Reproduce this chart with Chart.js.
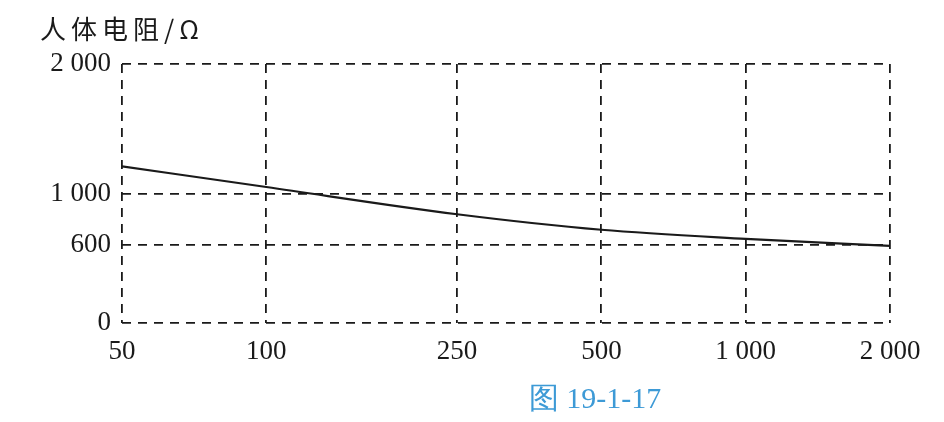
<!DOCTYPE html>
<html>
<head>
<meta charset="utf-8">
<script src="https://cdn.jsdelivr.net/npm/chart.js@4.4.1/dist/chart.umd.min.js"></script>
<style>
  html, body { margin: 0; padding: 0; background: #fff; }
  #wrap { position: relative; width: 944px; height: 422px; }
</style>
</head>
<body>
<div id="wrap"><canvas id="chart" width="944" height="422"></canvas></div>
<script>
// ── Data ───────────────────────────────────────────────────
const voltage = [50, 100, 250, 500, 1000, 2000];
const resistance = [1210, 1050, 840, 720, 650, 595];
const xTicks = [50, 100, 250, 500, 1000, 2000];
const yTicks = [0, 600, 1000, 2000];
const yTitle = '人体电阻/Ω';
const caption = '图 19-1-17';

const SERIF = "'Liberation Serif', 'DejaVu Serif', serif";
const INK = '#1a1a1a';
const fmt = v => v >= 1000 ? String(v).replace(/(\d)(\d{3})$/, '$1 $2') : String(v);

// ── Texts around the plot ──────────────────────────────────
const textPlugin = {
  id: 'texts',
  afterDraw(chart) {
    const { ctx } = chart;
    ctx.save();
    ctx.fillStyle = INK;
    ctx.textBaseline = 'middle';
    ctx.textAlign = 'left';
    ctx.font = "26px 'Noto Sans CJK SC', sans-serif";
    ctx.letterSpacing = '5px';
    ctx.fillText(yTitle, 40, 29);
    ctx.letterSpacing = '0px';
    ctx.fillStyle = '#3d9ad6';
    ctx.textAlign = 'center';
    ctx.font = "30px " + SERIF;
    ctx.fillText(caption, 595, 400);
    ctx.restore();
  }
};

const dashedGrid = {
  grid: { color: INK, lineWidth: 1.8, drawTicks: false },
  border: { display: false, dash: [9, 7] }
};

new Chart(document.getElementById('chart'), {
  type: 'line',
  data: {
    datasets: [{
      data: voltage.map((v, i) => ({ x: v, y: resistance[i] })),
      borderColor: INK,
      borderWidth: 2.2,
      pointRadius: 0,
      cubicInterpolationMode: 'monotone',
      fill: false,
    }]
  },
  options: {
    responsive: false,
    animation: false,
    layout: { padding: { top: 64, right: 54, bottom: 47, left: 0 } },
    plugins: { legend: { display: false }, tooltip: { enabled: false } },
    scales: {
      x: {
        type: 'logarithmic',
        min: 50, max: 2000,
        ...dashedGrid,
        afterBuildTicks: s => { s.ticks = xTicks.map(v => ({ value: v })); },
        afterFit: s => { s.height = 52; },
        ticks: {
          color: INK, padding: 13, maxRotation: 0, autoSkip: false,
          font: { family: SERIF, size: 27 },
          callback: v => fmt(v)
        }
      },
      y: {
        min: 0, max: 2000,
        ...dashedGrid,
        afterBuildTicks: s => { s.ticks = yTicks.map(v => ({ value: v })); },
        afterFit: s => { s.width = 122; },
        ticks: {
          color: INK, padding: 11,
          font: { family: SERIF, size: 27 },
          callback: v => fmt(v)
        }
      }
    }
  },
  plugins: [textPlugin]
});
</script>
</body>
</html>
